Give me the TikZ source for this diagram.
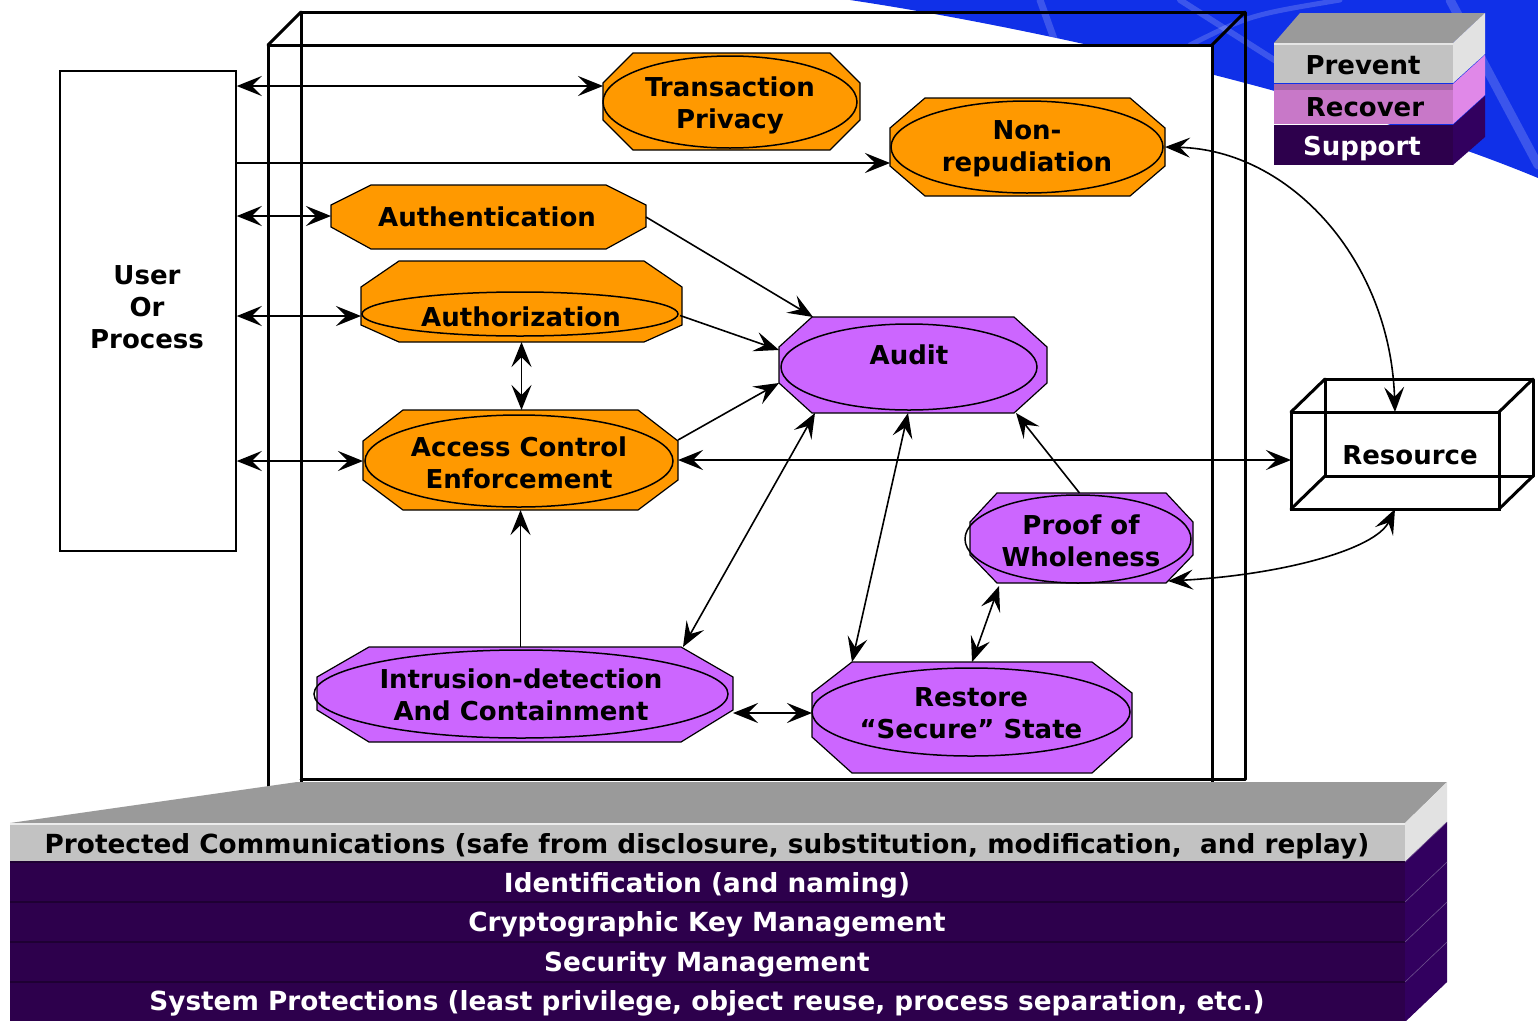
\documentclass[tikz,border=0pt]{standalone}
\usepackage{fontspec}
\setmainfont{DejaVu Sans}
\usetikzlibrary{arrows.meta,calc}

\definecolor{procOrange}{HTML}{FF9900}
\definecolor{procViolet}{HTML}{CC66FF}
\definecolor{skyBlue}{RGB}{16,48,232}
\definecolor{slabTop}{HTML}{9A9A9A}
\definecolor{slabFront}{HTML}{C2C2C2}
\definecolor{slabSide}{HTML}{E2E2E2}
\definecolor{rowFront}{HTML}{2D004C}
\definecolor{rowSide}{HTML}{32005F}
\definecolor{rowSep}{HTML}{1E0033}
\definecolor{rowEdge}{HTML}{6A4C8A}
\definecolor{recoverFront}{HTML}{C878C8}
\definecolor{recoverSide}{HTML}{E088E8}
\definecolor{recoverBand}{HTML}{A866A8}

\tikzset{
  lbl/.style={font=\bfseries\fontsize{26}{32}\selectfont, align=center, inner sep=0pt},
  rowlbl/.style={font=\bfseries\fontsize{26.3}{32}\selectfont, align=center, inner sep=0pt},
  frame/.style={rectangle, draw=none, inner sep=0pt, outer sep=0pt},
  ring/.style={draw=black, line width=1.5pt},
  wire/.style={draw=black, line width=3pt, line cap=round, line join=round},
  conn/.style={draw=black, line width=1.6pt},
  rowtext/.style={rowlbl, text=white},
  glint/.style={draw=white, opacity=0.18, line cap=round},
}

% octagon with chamfered corners plus an invisible named frame over it
% #1 name, #2 x1, #3 y1, #4 x2, #5 y2, #6 chamfer dx, #7 top dy, #8 bottom dy, #9 fill
\newcommand\octshape[9]{%
  \filldraw[fill=#9, draw=black, line width=1.2pt, line join=miter]
    (#2+#6,#3) -- (#4-#6,#3) -- (#4,#3+#7) -- (#4,#5-#8) -- (#4-#6,#5)
    -- (#2+#6,#5) -- (#2,#5-#8) -- (#2,#3+#7) -- cycle;
  \node[frame, minimum width={(#4-#2)*1pt}, minimum height={(#5-#3)*1pt}]
    (#1) at ({(#2+#4)/2},{(#3+#5)/2}) {};
}

\begin{document}
\begin{tikzpicture}[x=1pt, y=-1pt,
  >={Stealth[length=25pt,width=20pt,inset=10pt]}]
\useasboundingbox (0,0) rectangle (1538,1020);

% blue sweep in the upper right corner
\fill[skyBlue] (850,0) .. controls (1050,30) and (1350,100) .. (1538,178)
  -- (1538,0) -- cycle;
\begin{scope}
  \clip (850,0) .. controls (1050,30) and (1350,100) .. (1538,178) -- (1538,0) -- cycle;
  \draw[glint, line width=7pt] (1040,0) -- (1058,50);
  \draw[glint, line width=6pt] (1180,0) -- (1290,70);
  \draw[glint, line width=9pt] (1450,0) -- (1538,165);
  \draw[glint, line width=5pt] (1190,45) .. controls (1250,15) .. (1340,0);
\end{scope}

% system enclosure drawn as a wire-frame box
\fill[white] (268,45) rectangle (1212,790);
\draw[wire] (301,790) -- (301,12) -- (1245,12) -- (1245,779) -- (301,779);
\draw[wire] (268,790) -- (268,45) -- (1212,45) -- (1212,790);
\draw[wire] (268,45) -- (301,12) (1212,45) -- (1245,12);

% legend slabs
\fill[slabTop] (1274,43) -- (1300,13) -- (1485,13) -- (1453,43) -- cycle;
\fill[slabFront] (1274,43) rectangle (1453,83);
\fill[slabSide] (1453,43) -- (1485,13) -- (1485,54) -- (1453,83) -- cycle;
\draw[white!80!gray, line width=1.5pt] (1274,44) -- (1453,44);
\fill[recoverFront] (1274,84) rectangle (1453,124);
\fill[recoverBand] (1274,84) rectangle (1453,90);
\fill[recoverSide] (1453,84) -- (1485,55) -- (1485,95) -- (1453,124) -- cycle;
\fill[rowFront] (1274,125) rectangle (1453,165);
\fill[rowSide] (1453,125) -- (1485,96) -- (1485,137) -- (1453,165) -- cycle;
\node[lbl] (prevent) at (1363,65) {Prevent};
\node[lbl] (recover) at (1365,107) {Recover};
\node[lbl, text=white] (support) at (1362,149) {Support};

% user or process
\node[draw, line width=1.5pt, minimum width=176pt, minimum height=480pt,
  inner sep=0pt] (user) at (148,311) {};
\node[lbl] (user-t) at (147,307) {User\\Or\\Process};

% resource box
\draw[wire] (1325,379) rectangle (1533,476);
\draw[wire] (1291,412) -- (1325,379) (1499,412) -- (1533,379)
            (1291,509) -- (1325,476) (1499,509) -- (1533,476);
\node[frame, draw=black, line width=3pt, minimum width=208pt, minimum height=97pt]
  (res) at (1395,460.5) {};
\node[lbl] (res-t) at (1410,455) {Resource};

% protection services
\octshape{tp}{603}{53}{860}{150}{30}{30}{30}{procOrange}
\draw[ring] (730,102) ellipse [x radius=127pt, y radius=46pt];
\node[lbl] (tp-t) at (730,105) {Transaction\\Privacy};

\octshape{nr}{890}{98}{1165}{196}{35}{30}{30}{procOrange}
\draw[ring] (1027,147) ellipse [x radius=136pt, y radius=46pt];
\node[lbl] (nr-t) at (1027,149) {Non-\\repudiation};

\octshape{an}{331}{185}{646}{249}{40}{20}{22}{procOrange}
\node[lbl] (an-t) at (487,217) {Authentication};

\octshape{az}{361}{261}{682}{342}{38}{26}{17}{procOrange}
\draw[ring] (520,314) ellipse [x radius=158pt, y radius=22pt];
\node[lbl] (az-t) at (521,317) {Authorization};

\octshape{ace}{363}{410}{678}{510}{40}{31}{30}{procOrange}
\draw[ring] (519,461) ellipse [x radius=154pt, y radius=46pt];
\node[lbl] (ace-t) at (519,463) {Access Control\\Enforcement};

% detection and recovery services
\octshape{audit}{779}{317}{1047}{413}{33}{30}{30}{procViolet}
\draw[ring] (909,367) ellipse [x radius=128pt, y radius=43pt];
\node[lbl] (audit-t) at (909,355) {Audit};

\octshape{pw}{970}{493}{1193}{583}{27}{29}{28}{procViolet}
\draw[ring] (1078,539) ellipse [x radius=113pt, y radius=44pt];
\node[lbl] (pw-t) at (1081,541) {Proof of\\Wholeness};

\octshape{rs}{812}{662}{1132}{773}{40}{31}{36}{procViolet}
\draw[ring] (971,712) ellipse [x radius=159pt, y radius=44pt];
\node[lbl] (rs-t) at (971,713) {Restore\\“Secure” State};

\octshape{idc}{317}{647}{733}{742}{52}{30}{32}{procViolet}
\draw[ring] (521,694) ellipse [x radius=207pt, y radius=44pt];
\node[lbl] (idc-t) at (521,695) {Intrusion-detection\\And Containment};

% connectors
\draw[conn,<->] (user.east |- 0,86) -- (tp.west |- 0,86);
\draw[conn,->]  (user.east |- 0,163) -- (nr.west |- 0,163);
\draw[conn,<->] (user.east |- 0,216) -- (an.west |- 0,216);
\draw[conn,<->] (user.east |- 0,316) -- (az.west |- 0,316);
\draw[conn,<->] (user.east |- 0,461) -- (ace.west |- 0,461);

\draw[conn,->] (an.east) -- ($(audit.north west)+(34,0)$);
\draw[conn,->] ($(az.east)+(-2,14)$) -- ($(audit.north west)+(0,33)$);
\draw[conn,->] ($(ace.east)+(0,-20)$) -- ($(audit.south west)+(0,-30)$);
\draw[conn,<->] (az.south) -- (az.south |- ace.north);
\draw[conn,->] (ace.south |- idc.north) -- (ace.south);
\draw[conn,<->] (ace.east) -- (ace.east -| res.west);
\draw[conn,<->] ($(audit.south west)+(36,0)$) -- ($(idc.north east)+(-50,0)$);
\draw[conn,<->] ($(audit.south)+(-5,0)$) -- ($(rs.north west)+(40,0)$);
\draw[conn,->] ($(pw.north)+(-2,0)$) -- ($(audit.south east)+(-31,0)$);
\draw[conn,<->] ($(pw.south west)+(29,3)$) -- (rs.north);
\draw[conn,<->] (idc.east |- 0,713) -- (rs.west |- 0,713);
\draw[conn,<->] (nr.east) .. controls (1290,150) and (1390,260) .. (res.north);
\draw[conn,<->] (res.south) .. controls (1375,550) and (1280,575)
  .. ($(pw.south east)+(-25,-2)$);

% layered foundation
\fill[slabTop] (10,823) -- (297,782) -- (1447,782) -- (1405,823) -- cycle;
\fill[slabFront] (10,823) rectangle (1405,861);
\fill[slabSide] (1405,823) -- (1447,782) -- (1447,822) -- (1405,861) -- cycle;
\draw[white!85!gray, line width=2pt] (10,824) -- (1405,824);
\foreach \t in {862,902,942,982} {
  \fill[rowFront] (10,\t) rectangle (1405,\t+40);
  \fill[rowSide] (1405,\t) -- (1447,\t-40) -- (1447,\t) -- (1405,\t+40) -- cycle;
  \draw[rowSep, line width=1.5pt] (10,\t) -- (1405,\t);
  \draw[rowEdge, line width=0.6pt] (1405,\t) -- (1447,\t-40);
}
\node[rowlbl] (pc) at (707,846)
  {Protected Communications (safe from disclosure, substitution, modification,\ \ and replay)};
\node[rowtext] (idn) at (707,885) {Identification (and naming)};
\node[rowtext] (ckm) at (707,924) {Cryptographic Key Management};
\node[rowtext] (sm) at (707,964) {Security Management};
\node[rowtext] (sp) at (707,1003)
  {System Protections (least privilege, object reuse, process separation, etc.)};
\end{tikzpicture}
\end{document}
